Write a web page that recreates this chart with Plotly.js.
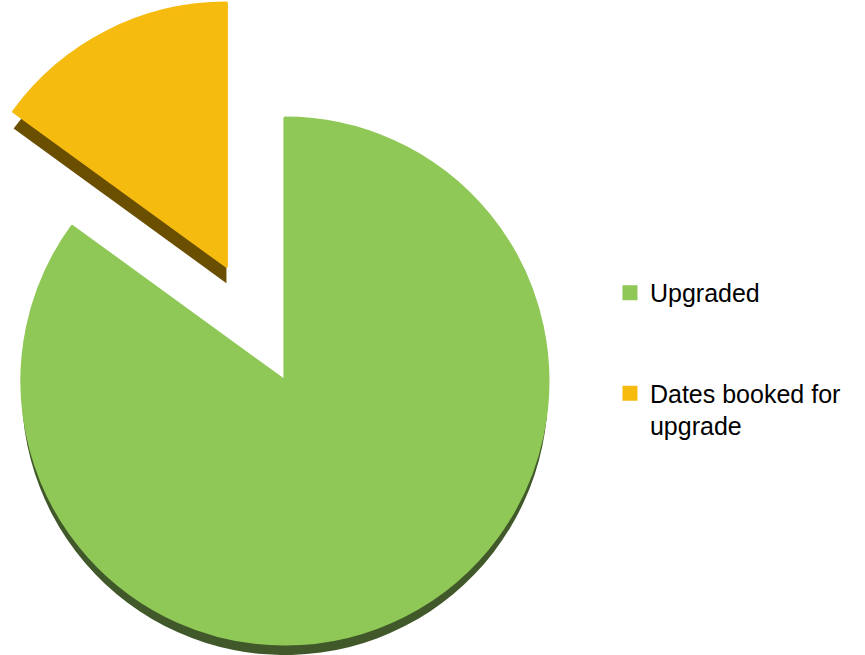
<!DOCTYPE html>
<html>
<head>
<meta charset="utf-8">
<script src="https://cdn.plot.ly/plotly-3.0.1.min.js"></script>
<style>
  html, body { margin: 0; padding: 0; width: 865px; height: 655px; overflow: hidden; background: #ffffff; position: relative; }
  #chart { position: absolute; }
</style>
</head>
<body>
<div id="chart"></div>
<script>
// ---- data ----
const labels = ['Upgraded', 'Dates booked for upgrade'];
const values = [85, 15];
const legendLabels = ['Upgraded<br>\u00a0<br>\u00a0', 'Dates booked for<br>upgrade'];

// ---- style ----
const topColors = ['#8FC856', '#F6BB0F'];
const sideColors = ['#41592A', '#6A4F00'];
const PULL = 0.49;          // explode of the second slice
const R = 263, CX = 285, CY = 381;   // wanted pie radius / centre on the page
const DEPTH = [11, 17];     // fake 3-D side thickness per slice

const S = 2 * R * (1 + PULL);        // square box plotly needs for radius R
const maxD = Math.max(...DEPTH);
const boxLeft = CX - S / 2, boxTop = CY - S / 2;
const W = 865 - boxLeft;
const H = S + maxD;

const el = document.getElementById('chart');
el.style.left = boxLeft + 'px';
el.style.top = boxTop + 'px';
el.style.width = W + 'px';
el.style.height = H + 'px';

const pulls = values.map((v, i) => i === 1 ? PULL : 0);
const dx = [0, S / W];

const sideTraces = [0, 1].map(k => ({
  type: 'pie',
  values: values,
  labels: legendLabels,
  sort: false,
  direction: 'clockwise',
  rotation: 0,
  pull: pulls,
  textinfo: 'none',
  hoverinfo: 'skip',
  showlegend: false,
  marker: {
    colors: values.map((v, i) => i === k ? sideColors[i] : 'rgba(0,0,0,0)'),
    line: { width: 0 }
  },
  domain: { x: dx, y: [(H - S - DEPTH[k]) / H, (H - DEPTH[k]) / H] }
}));

const mainTrace = {
  type: 'pie',
  values: values,
  labels: legendLabels,
  customdata: labels,
  sort: false,
  direction: 'clockwise',
  rotation: 0,
  pull: pulls,
  textinfo: 'none',
  hovertemplate: '%{customdata}: %{value}<extra></extra>',
  marker: { colors: topColors, line: { color: topColors, width: 3 } },
  domain: { x: dx, y: [(H - S) / H, 1] }
};

const LEGX = 610, LEGY = 270;

const layout = {
  width: W,
  height: H,
  margin: { l: 0, r: 0, t: 0, b: 0, pad: 0 },
  paper_bgcolor: '#ffffff',
  showlegend: true,
  legend: {
    x: (LEGX - boxLeft) / W,
    xanchor: 'left',
    y: 1 - (LEGY - boxTop) / H,
    yanchor: 'top',
    valign: 'top',
    bgcolor: 'rgba(0,0,0,0)',
    font: { family: 'Arial, "Liberation Sans", sans-serif', size: 25, color: '#000000' }
  }
};

Plotly.newPlot(el, [...sideTraces, mainTrace], layout, { displayModeBar: false, responsive: false });
</script>
</body>
</html>
